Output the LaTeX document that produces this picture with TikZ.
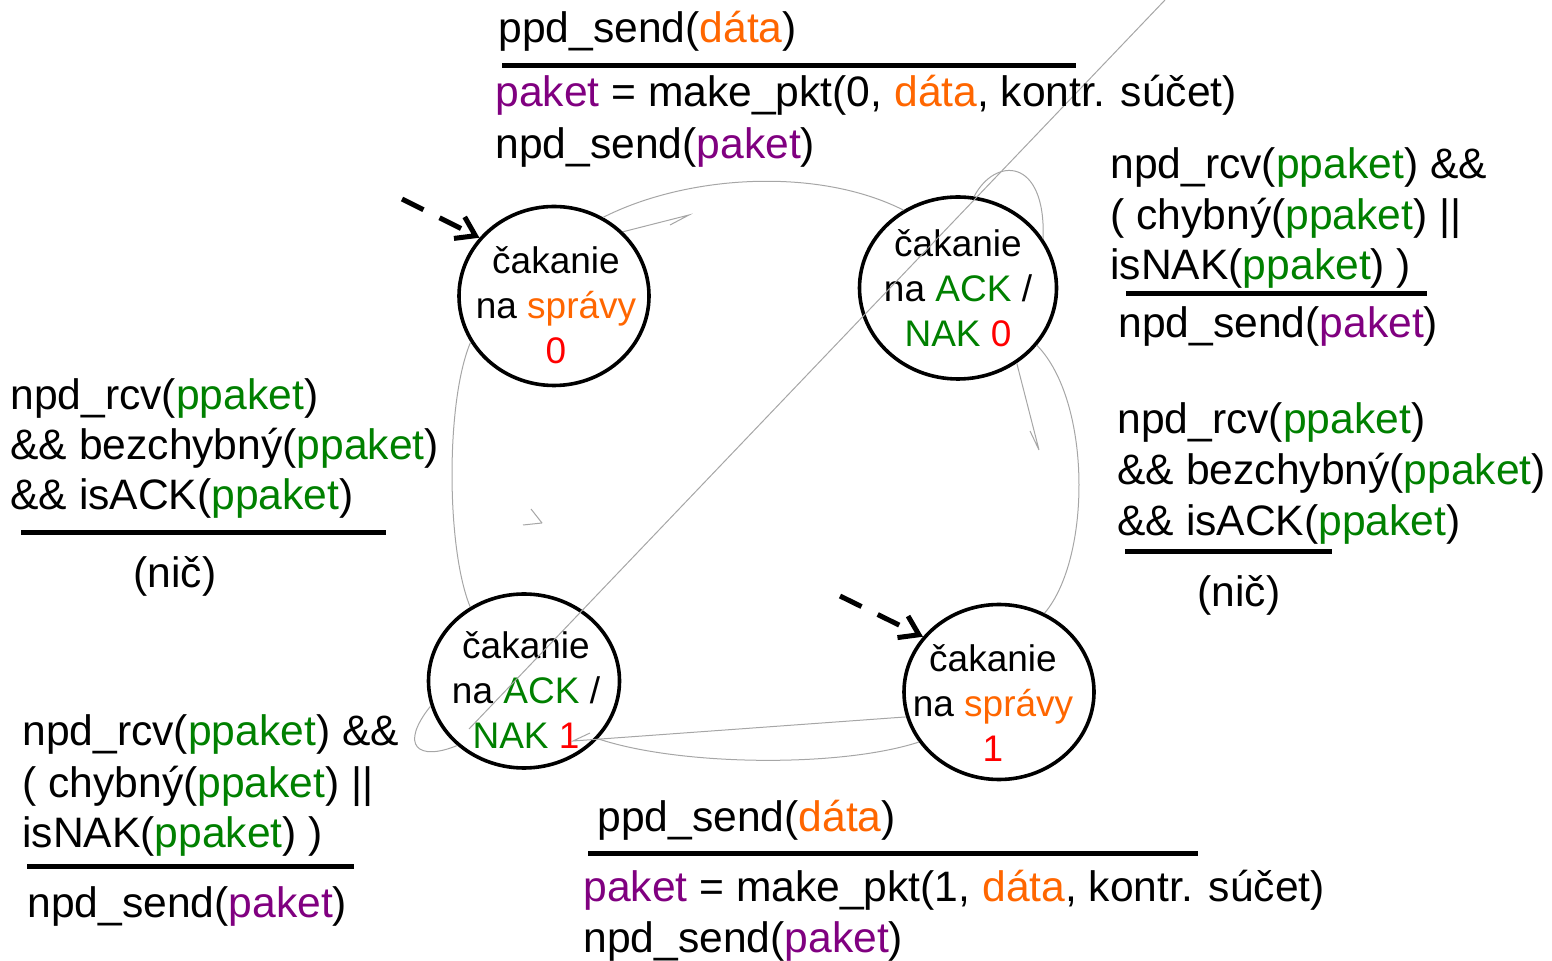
\documentclass[tikz,border=0pt]{standalone}
\usepackage{fontspec}
\setmainfont{Liberation Sans}
\usetikzlibrary{shapes.geometric}
\usetikzlibrary{arrows.meta}
\definecolor{pkt}{HTML}{800080}
\definecolor{dat}{HTML}{FF6600}
\definecolor{grn}{HTML}{008000}
\definecolor{nr}{HTML}{FF0000}
\tikzset{state/.style={draw, ellipse, line width=1.8pt, inner sep=0pt}}
\tikzset{stxt/.style={align=center, inner sep=0pt, font=\fontsize{18.5}{22.5}\selectfont}}
\tikzset{lbl/.style={anchor=base west, inner sep=0pt, yshift=-1.5pt, font=\fontsize{21.3}{25.3}\selectfont}}
\tikzset{rule/.style={line width=2.5pt}}
\tikzset{gline/.style={draw=gray!70, line width=0.5pt}}
\tikzset{init/.style={line width=2.5pt, dash pattern=on 12pt off 9pt,
  -{Straight Barb[length=9pt, width=12pt]}}}
\newcommand*{\dat}{\textcolor{dat}{dáta}}
\newcommand*{\pak}{\textcolor{pkt}{paket}}
\newcommand*{\ppak}{\textcolor{grn}{ppaket}}

\begin{document}
\begin{tikzpicture}[x=0.5pt, y=0.5pt]
    \useasboundingbox (0, 0) rectangle (1552, -961);
    \coordinate(start0)at(402, -199);
    \coordinate(start1)at(840, -596);
    \coordinate(h1)at(689, -215);
    \coordinate(h2)at(1039, -450);
    \coordinate(h3)at(542, -523);
    \coordinate(h4)at(573, -741);
    \coordinate(d0)at(1165, 0);
    \coordinate(d1)at(469, -729);
    \node[state, minimum width=95pt, minimum height=89.5pt](w0)at(554, -296){};
    \node[state, minimum width=98.5pt, minimum height=91pt](ack0)at(958, -288){};
    \node[state, minimum width=95.5pt, minimum height=87pt](ack1)at(524, -681){};
    \node[state, minimum width=95pt, minimum height=87.5pt](w1)at(999, -692){};
    \node[stxt](w0txt)at(556, -305){čakanie\\na \textcolor{dat}{správy}\\\textcolor{nr}{0}};
    \node[stxt](ack0txt)at(958, -288){čakanie\\na \textcolor{grn}{ACK} /\\\textcolor{grn}{NAK} \textcolor{nr}{0}};
    \node[stxt](ack1txt)at(526, -690){čakanie\\na \textcolor{grn}{ACK} /\\\textcolor{grn}{NAK} \textcolor{nr}{1}};
    \node[stxt](w1txt)at(993, -703){čakanie\\na \textcolor{dat}{správy}\\\textcolor{nr}{1}};
    \draw[init](start0)--(w0.142);
    \draw[init](start1)--(w1.144);
    \draw[gline](w0.58) .. controls +(85, 43) and +(-85, 43) .. (ack0.125);
    \draw[gline](w0.43)--(h1)--++(-19, -10);
    \draw[gline](d0)--(d1);
    \draw[gline](ack0.80) .. controls +(21, 40) and +(3, 82) .. (ack0.30);
    \draw[gline](ack0.-52)--(h2)--++(-9, 19);
    \draw[gline](ack0.-36) .. controls +(55, -56) and +(47, 55) .. (w1.60);
    \draw[gline](w0.209) .. controls +(-25, -59) and +(-24, 58) .. (ack1.126);
    \draw[gline](h3)--++(-19, -2) (h3)--++(-11, 14);
    \draw[gline](ack1.195) .. controls +(-32, -40) and +(-39, -16) .. (ack1.224);
    \draw[gline](w1.195)--(h4)--++(17, 8);
    \draw[gline](ack1.-38) .. controls +(80, -27) and +(-80, -26) .. (w1.212);
    % w0 -> ack0
    \node[lbl](g1a)at(498, -40){ppd\_send(\dat)};
    \draw[rule](502, -66)--(1076, -66);
    \node[lbl](g1b)at(495, -104){\pak{} = make\_pkt(0, \dat, kontr. súčet)};
    \node[lbl](g1c)at(495, -156){npd\_send(\pak)};
    % ack0 -> ack0
    \node[lbl](g2a)at(1110, -176){npd\_rcv(\ppak) \&\&};
    \node[lbl](g2b)at(1110, -227){( chybný(\ppak) ||};
    \node[lbl](g2c)at(1110, -277){isNAK(\ppak) )};
    \draw[rule](1126, -294)--(1427, -294);
    \node[lbl](g2d)at(1118, -335){npd\_send(\pak)};
    % ack0 -> w1
    \node[lbl](g3a)at(1117, -431){npd\_rcv(\ppak)};
    \node[lbl](g3b)at(1117, -482){\&\& bezchybný(\ppak)};
    \node[lbl](g3c)at(1117, -533){\&\& isACK(\ppak)};
    \draw[rule](1125, -552)--(1332, -552);
    \node[lbl](g3d)at(1197, -604){(nič)};
    % ack1 -> w0
    \node[lbl](g4a)at(10, -407){npd\_rcv(\ppak)};
    \node[lbl](g4b)at(10, -457){\&\& bezchybný(\ppak)};
    \node[lbl](g4c)at(10, -507){\&\& isACK(\ppak)};
    \draw[rule](21, -533)--(386, -533);
    \node[lbl](g4d)at(133, -585){(nič)};
    % ack1 -> ack1
    \node[lbl](g5a)at(22, -742){npd\_rcv(\ppak) \&\&};
    \node[lbl](g5b)at(22, -794){( chybný(\ppak) ||};
    \node[lbl](g5c)at(22, -844){isNAK(\ppak) )};
    \draw[rule](27, -866)--(354, -866);
    \node[lbl](g5d)at(27, -914){npd\_send(\pak)};
    % w1 -> ack1
    \node[lbl](g6a)at(597, -828){ppd\_send(\dat)};
    \draw[rule](588, -853)--(1198, -853);
    \node[lbl](g6b)at(583, -898){\pak{} = make\_pkt(1, \dat, kontr. súčet)};
    \node[lbl](g6c)at(583, -949){npd\_send(\pak)};
\end{tikzpicture}
\end{document}
